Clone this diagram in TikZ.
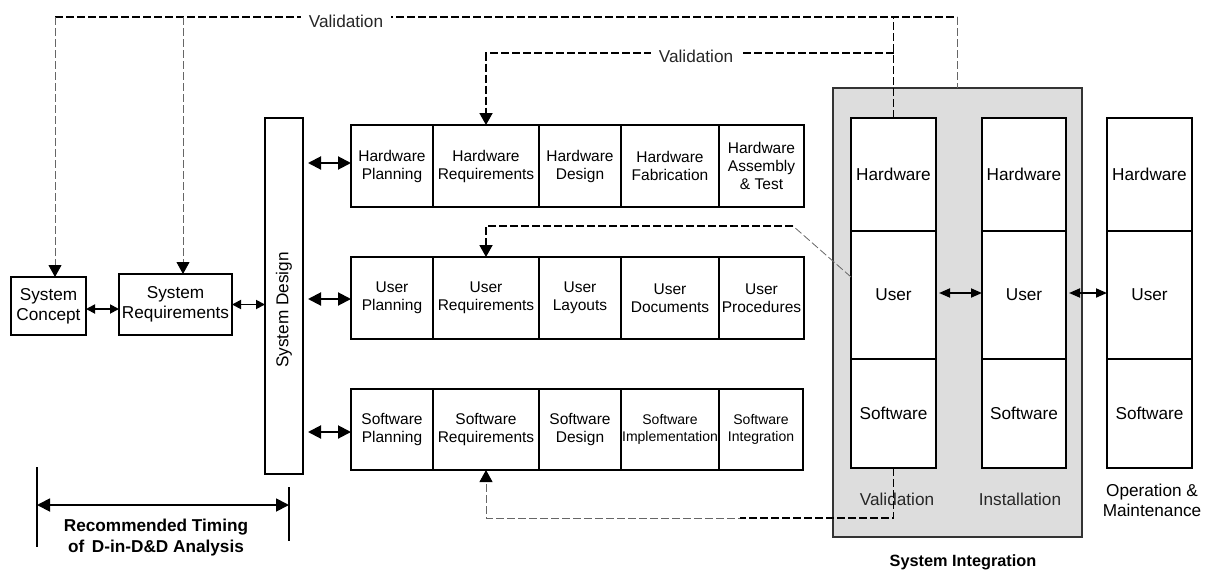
\documentclass[tikz,border=0pt]{standalone}
\usepackage{fontspec}
\setmainfont{Liberation Sans}
\usetikzlibrary{arrows.meta,calc}

\tikzset{
  cell/.style={draw, line width=2pt, fill=white, anchor=north west, inner sep=0pt,
    outer sep=0pt, align=center},
  fmid/.style={font=\fontsize{15.5}{18}\selectfont},
  fsmall/.style={font=\fontsize{14}{17}\selectfont},
  fbig/.style={font=\fontsize{17.2}{20}\selectfont},
  fbold/.style={font=\fontsize{17.2}{21}\selectfont\bfseries},
  vthick/.style={line width=1.8pt, dash pattern=on 8pt off 3pt},
  vthin/.style={line width=0.8pt, dash pattern=on 8pt off 3pt, draw=black!60},
  vtip/.style={-{Triangle[length=12pt,width=13pt,color=black]}},
  dbl/.style={line width=2pt, {Triangle[length=13pt,width=13pt]}-{Triangle[length=13pt,width=13pt]}},
  dblsm/.style={line width=1.8pt, {Triangle[length=9pt,width=9pt]}-{Triangle[length=9pt,width=9pt]}},
  dblcol/.style={line width=1.8pt, {Triangle[length=11pt,width=9pt]}-{Triangle[length=11pt,width=9pt]}},
  vlabel/.style={font=\fontsize{17.2}{20}\selectfont, text=black!85, fill=white, inner xsep=8pt},
}

% one box given by its corners: name, x1, y1, x2, y2, style, text
\newcommand\cellbox[7]{\node[cell,#6,minimum width={(#4-#2)*1pt},minimum height={(#5-#3)*1pt}] (#1) at (#2,#3) {#7};}

\begin{document}
\begin{tikzpicture}[x=1pt,y=-1pt]
\useasboundingbox (0,0) rectangle (1209,570);

% system integration panel
\node[draw=black!80, line width=1.5pt, fill={rgb,255:red,221;green,221;blue,221},
  anchor=north west, inner sep=0pt, outer sep=0pt, minimum width=249pt, minimum height=449pt]
  (sysint) at (833,88) {};

% early phases
\cellbox{sc}{11}{277}{86}{335}{fbig}{System\\Concept}
\cellbox{sr}{119}{274}{232}{335}{fbig}{System\\Requirements}
\cellbox{sd}{265}{118}{303}{474}{}{}
\node[rotate=90, fbig] (sdlabel) at (284,310) {System Design};

% hardware row
\cellbox{hwp}{351}{125}{433}{207}{fmid}{Hardware\\Planning}
\cellbox{hwr}{433}{125}{539}{207}{fmid}{Hardware\\Requirements}
\cellbox{hwd}{539}{125}{621}{207}{fmid}{Hardware\\Design}
\cellbox{hwf}{621}{125}{719}{207}{fmid}{Hardware\\Fabrication}
\cellbox{hwa}{719}{125}{804}{207}{fmid}{Hardware\\Assembly\\\& Test}

% user row
\cellbox{up}{351}{257}{433}{339}{fmid}{User\\Planning}
\cellbox{ur}{433}{257}{539}{339}{fmid}{User\\Requirements}
\cellbox{ul}{539}{257}{621}{339}{fmid}{User\\Layouts}
\cellbox{udoc}{621}{257}{719}{339}{fmid}{User\\Documents}
\cellbox{upr}{719}{257}{804}{339}{fmid}{User\\Procedures}

% software row
\cellbox{swp}{351}{389}{433}{470}{fmid}{Software\\Planning}
\cellbox{swr}{433}{389}{539}{470}{fmid}{Software\\Requirements}
\cellbox{swd}{539}{389}{621}{470}{fmid}{Software\\Design}
\cellbox{swi}{621}{389}{719}{470}{fsmall}{Software\\Implementation}
\cellbox{swg}{719}{389}{803}{470}{fsmall}{Software\\Integration}

% validation, installation, operation columns
\cellbox{vhw}{851}{118}{936}{231}{fbig}{Hardware}
\cellbox{vus}{851}{231}{936}{359}{fbig}{User}
\cellbox{vsw}{851}{359}{936}{468}{fbig}{Software}
\cellbox{ihw}{982}{118}{1066}{231}{fbig}{Hardware}
\cellbox{ius}{982}{231}{1066}{359}{fbig}{User}
\cellbox{isw}{982}{359}{1066}{468}{fbig}{Software}
\cellbox{ohw}{1107}{118}{1192}{231}{fbig}{Hardware}
\cellbox{ous}{1107}{231}{1192}{359}{fbig}{User}
\cellbox{osw}{1107}{359}{1192}{468}{fbig}{Software}

\node[fbig, text=black!85] (lval) at (897,499) {Validation};
\node[fbig, text=black!85] (linst) at (1020,499) {Installation};
\node[fbig, align=center] (lop) at (1152,500) {Operation \&\\Maintenance};
\node[font=\fontsize{16.3}{20}\selectfont\bfseries] (lsi) at (963,562) {System Integration};

% flow between phases
\draw[dblsm] (sc.east |- 0,309) -- (sr.west |- 0,309);
\draw[dblsm] (sr.east) -- (sr.east -| sd.west);
\draw[dbl, shorten <=5pt] (sd.east |- 0,163) -- (hwp.west |- 0,163);
\draw[dbl, shorten <=5pt] (sd.east |- 0,299) -- (up.west |- 0,299);
\draw[dbl, shorten <=5pt] (sd.east |- 0,432) -- (swp.west |- 0,432);
\draw[dblcol, shorten <=3pt] (vus.east |- 0,293) -- (ius.west |- 0,293);
\draw[dblcol, shorten <=3pt] (ius.east |- 0,293) -- (ous.west |- 0,293);

% outer validation loop
\coordinate (tl) at (55,17);
\coordinate (tr) at (957,17);
\coordinate (tsr) at (183,17);
\draw[vthick] (tl) -- (tr);
\draw[vthin] (tr) -- (tr |- sysint.north);
\draw[vthin, vtip] (tl) -- (tl |- sc.north);
\draw[vthin, vtip] (tsr) -- (tsr |- sr.north);
\draw[vthick] (vhw.north) -- (vhw.north |- tl);
\node[vlabel] (val1) at (346,21) {Validation};

% hardware validation
\coordinate (hwy) at (0,53);
\draw[vthick, vtip] (vhw.north |- hwy) -| (hwr.north);
\node[vlabel] (val2) at (696,56) {Validation};

% user validation
\coordinate (ubend) at (793,226);
\coordinate (uend) at (851,277);
\draw[vthin] (uend) -- (ubend);
\draw[vthick, vtip] (ubend) -| (ur.north);

% software validation
\coordinate (sby) at (0,518);
\coordinate (smid) at (740,518);
\draw[vthin, vtip] (vsw.south) -- (vsw.south |- sby) -| (swr.south);
\draw[vthick] (vsw.south) -- (vsw.south |- sby) -- (smid);

% recommended timing bracket
\coordinate (ta) at (37,467);
\coordinate (tb) at (37,547);
\coordinate (tc) at (289,487);
\coordinate (td) at (289,541);
\draw[line width=1.8pt] (ta) -- (tb);
\draw[line width=1.8pt] (tc) -- (td);
\draw[line width=1.8pt, {Triangle[length=13pt,width=13pt]}-{Triangle[length=13pt,width=13pt]}]
  (ta |- 0,505) -- (tc |- 0,505);
\node[fbold] (tim1) at (156,527) {Recommended Timing};
\node[fbold] (tim2) at (156,548) {of\, D-in-D\&D Analysis};
\end{tikzpicture}
\end{document}
